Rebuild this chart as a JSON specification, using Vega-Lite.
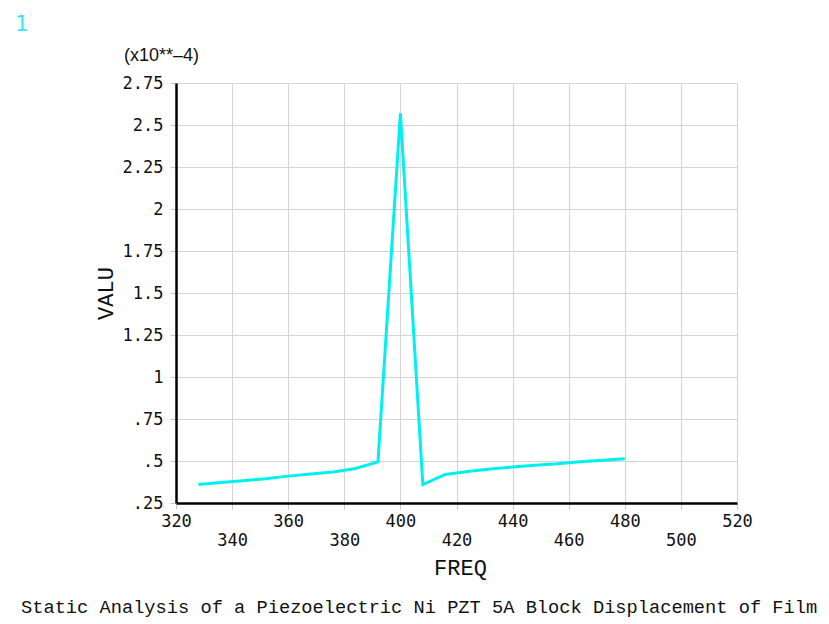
{
  "$schema": "https://vega.github.io/schema/vega-lite/v6.json",
  "width": 561,
  "height": 420,
  "autosize": {"type": "none"},
  "padding": {"left": 176, "top": 83, "right": 92, "bottom": 121},
  "background": "white",
  "config": {
    "view": {"stroke": null},
    "axis": {
      "gridColor": "#d4d4d4",
      "gridWidth": 1,
      "tickColor": "#c8c8c8",
      "tickSize": 6,
      "domainColor": "black",
      "domainWidth": 2.5,
      "labelFont": "DejaVu Sans Mono",
      "labelFontSize": 17,
      "labelColor": "#111111",
      "titleFont": "Liberation Mono",
      "titleFontSize": 22,
      "titleFontWeight": "normal",
      "titleColor": "#111111"
    }
  },
  "datasets": {
    "curve": [
      {"FREQ": 328, "VALU": 0.36},
      {"FREQ": 336, "VALU": 0.372},
      {"FREQ": 344, "VALU": 0.383},
      {"FREQ": 352, "VALU": 0.395},
      {"FREQ": 360, "VALU": 0.41},
      {"FREQ": 368, "VALU": 0.422},
      {"FREQ": 376, "VALU": 0.435},
      {"FREQ": 384, "VALU": 0.455},
      {"FREQ": 392, "VALU": 0.495},
      {"FREQ": 400, "VALU": 2.57},
      {"FREQ": 408, "VALU": 0.36},
      {"FREQ": 416, "VALU": 0.42},
      {"FREQ": 424, "VALU": 0.438},
      {"FREQ": 432, "VALU": 0.452},
      {"FREQ": 440, "VALU": 0.464},
      {"FREQ": 448, "VALU": 0.474},
      {"FREQ": 456, "VALU": 0.483},
      {"FREQ": 464, "VALU": 0.495},
      {"FREQ": 472, "VALU": 0.505},
      {"FREQ": 480, "VALU": 0.514}
    ],
    "one": [{"label": "1"}],
    "scale": [{"label": "(x10**–4)"}],
    "caption": [{"label": "Static Analysis of a Piezoelectric Ni PZT 5A Block Displacement of Film"}]
  },
  "layer": [
    {
      "data": {"name": "curve"},
      "mark": {"type": "line", "color": "#00f0f0", "strokeWidth": 3, "clip": true},
      "encoding": {
        "x": {
          "field": "FREQ",
          "type": "quantitative",
          "scale": {"domain": [320, 520], "nice": false, "zero": false},
          "axis": {
            "values": [320, 340, 360, 380, 400, 420, 440, 460, 480, 500, 520],
            "labelExpr": "datum.value % 40 == 0 ? datum.label : ['', datum.label]",
            "labelLineHeight": 19,
            "labelPadding": 4,
            "labelFlush": false,
            "labelOverlap": false,
            "title": "FREQ",
            "titleX": 284,
            "titleY": 64,
            "titleBaseline": "middle",
            "titleAlign": "center"
          }
        },
        "y": {
          "field": "VALU",
          "type": "quantitative",
          "scale": {"domain": [0.25, 2.75], "nice": false, "zero": false},
          "axis": {
            "values": [0.25, 0.5, 0.75, 1, 1.25, 1.5, 1.75, 2, 2.25, 2.5, 2.75],
            "labelExpr": "replace(toString(datum.value), /^0\\./, '.')",
            "labelPadding": 7,
            "labelFlush": false,
            "labelOverlap": false,
            "title": "VALU",
            "titleX": -71,
            "titleY": 210,
            "titleAngle": 270,
            "titleBaseline": "middle",
            "titleAlign": "center"
          }
        }
      }
    },
    {
      "data": {"name": "one"},
      "mark": {"type": "text", "color": "#33e8f0", "font": "DejaVu Sans", "fontSize": 21, "align": "center", "baseline": "middle", "dx": -154, "dy": -58},
      "encoding": {
        "x": {"datum": 320, "type": "quantitative"},
        "y": {"datum": 2.75, "type": "quantitative"},
        "text": {"field": "label"}
      }
    },
    {
      "data": {"name": "scale"},
      "mark": {"type": "text", "color": "#111111", "font": "Liberation Sans", "fontSize": 18, "align": "left", "baseline": "middle", "dx": -52, "dy": -27},
      "encoding": {
        "x": {"datum": 320, "type": "quantitative"},
        "y": {"datum": 2.75, "type": "quantitative"},
        "text": {"field": "label"}
      }
    },
    {
      "data": {"name": "caption"},
      "mark": {"type": "text", "color": "#111111", "font": "Liberation Mono", "fontSize": 18.7, "align": "left", "baseline": "middle", "dx": -155, "dy": 104},
      "encoding": {
        "x": {"datum": 320, "type": "quantitative"},
        "y": {"datum": 0.25, "type": "quantitative"},
        "text": {"field": "label"}
      }
    }
  ]
}
